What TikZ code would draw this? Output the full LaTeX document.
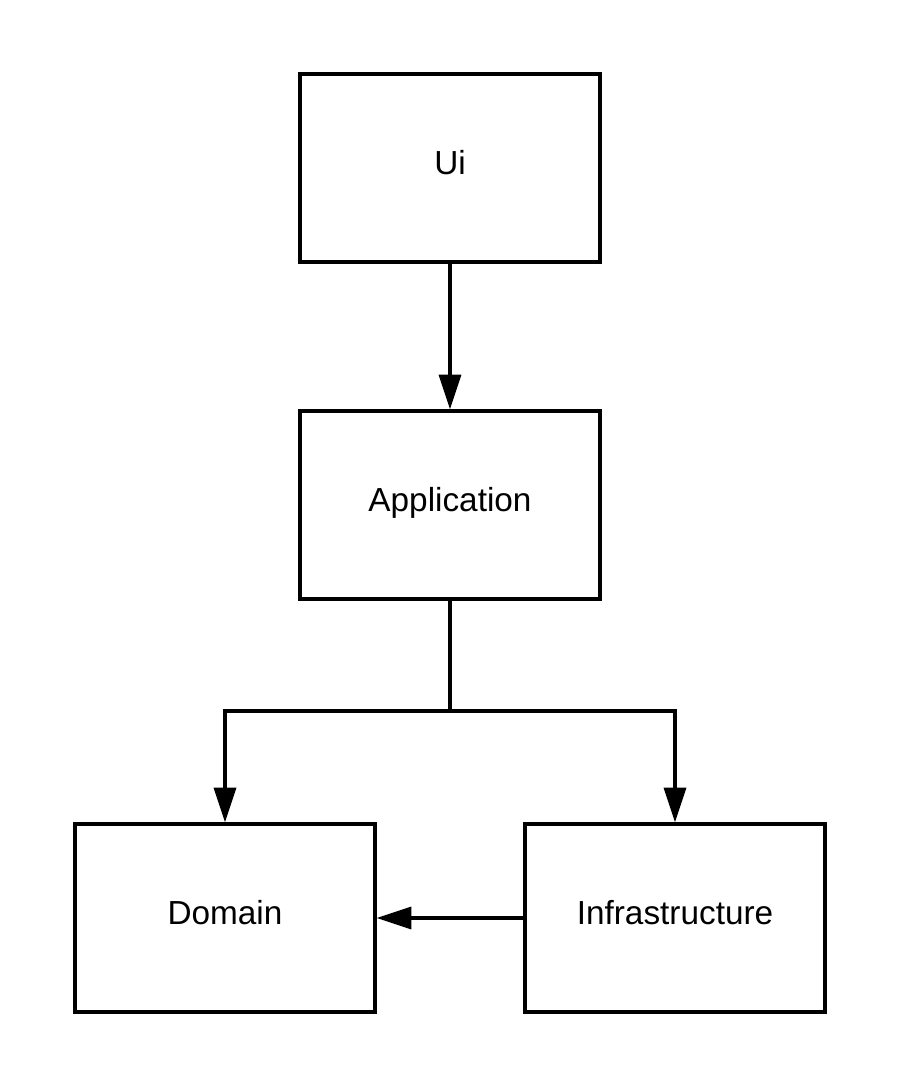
\documentclass[tikz,border=0pt]{standalone}
\usepackage{fontspec}
\setmainfont{Liberation Sans}
\usetikzlibrary{arrows.meta}

\tikzset{every picture/.style={line width=2.4pt}}
\tikzset{layer/.style={draw,rectangle,minimum width=225pt,minimum height=141pt,font=\fontsize{25pt}{30pt}\selectfont,text height=18pt,text depth=9pt}}
\tikzset{dep/.style={-{Triangle[length=26pt,width=16.5pt]}}}

\begin{document}
\begin{tikzpicture}[x=0.75pt,y=0.75pt,yscale=-1,xscale=1]
\useasboundingbox (0,0) rectangle (900,1088);
\node [layer] (ui) at (450,168) {Ui};
\node [layer] (app) at (450,505) {Application};
\node [layer] (dom) at (225,918) {Domain};
\node [layer] (infra) at (675,918) {Infrastructure};
\coordinate (split) at (450,711);
%\draw (app.south) -- (split);
\draw [dep] (ui) -- (app);
\draw (app) -- (split);
\draw [dep] (split) -| (dom);
\draw [dep] (split) -| (infra);
\draw [dep] (infra) -- (dom);
\end{tikzpicture}
\end{document}
